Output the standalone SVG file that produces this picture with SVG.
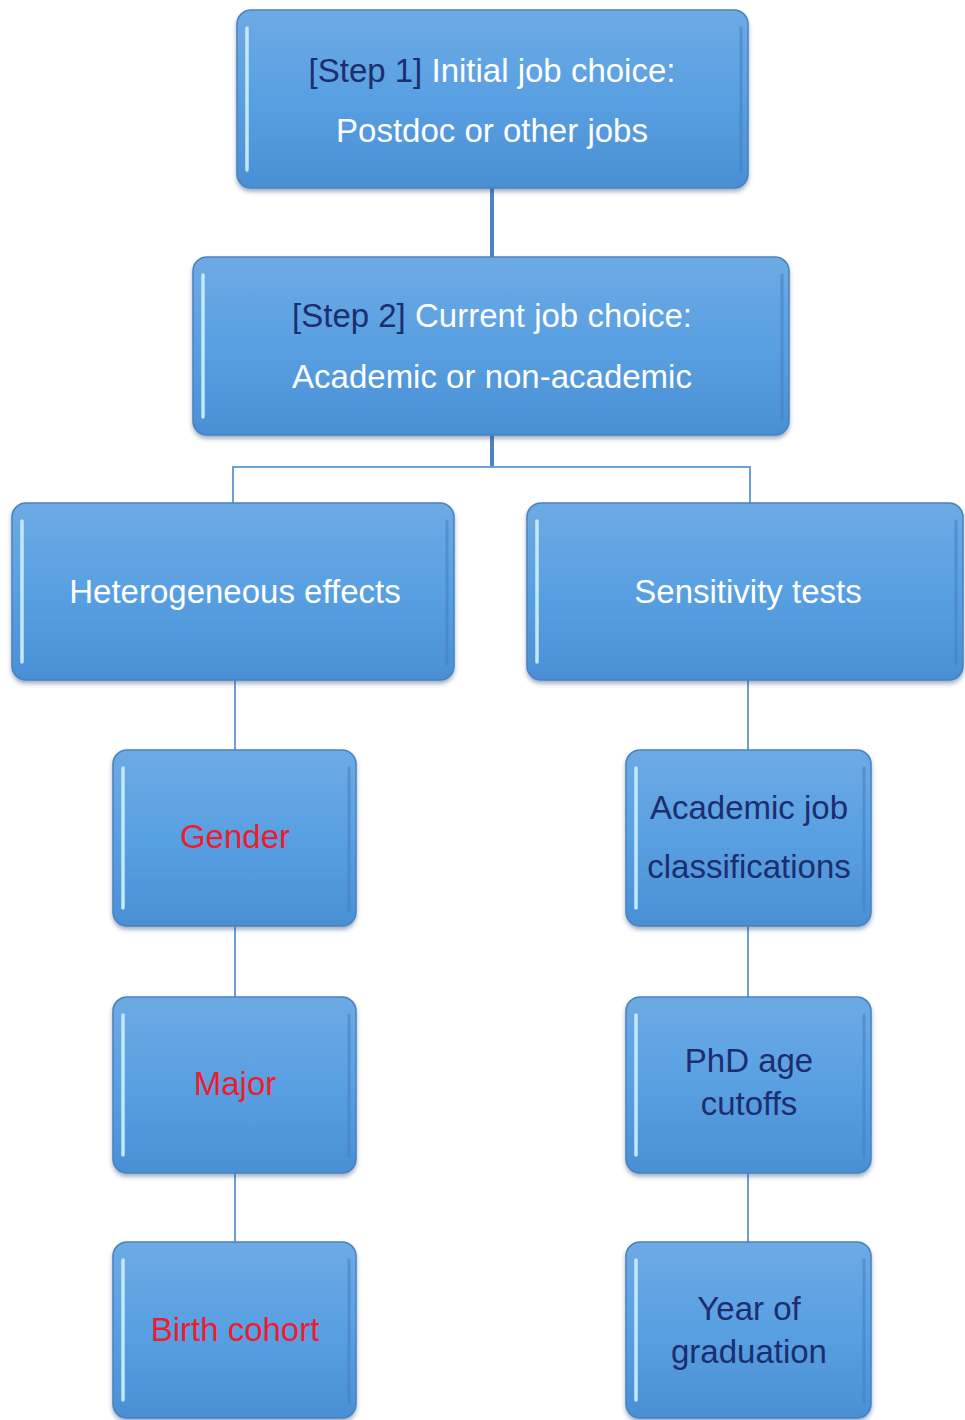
<svg xmlns="http://www.w3.org/2000/svg" width="965" height="1420" viewBox="0 0 965 1420">
<defs>
<linearGradient id="fillG" x1="0" y1="0" x2="0" y2="1">
<stop offset="0" stop-color="#6daae4"/>
<stop offset="0.5" stop-color="#58a0e2"/>
<stop offset="1" stop-color="#4a8fd4"/>
</linearGradient>
<filter id="sh" x="-5%" y="-5%" width="110%" height="115%">
<feDropShadow dx="0" dy="3" stdDeviation="2" flood-color="#2a4f80" flood-opacity="0.45"/>
</filter>
</defs>
<style>
.box{fill:url(#fillG);stroke:#4a82c0;stroke-width:1.5;filter:url(#sh)}
.hl{stroke:#c4e9ff;stroke-width:3.5;stroke-linecap:round}
.dk{stroke:#4681c2;stroke-width:3;stroke-linecap:round;opacity:0.6}
.t{font-family:"Liberation Sans",Arial,sans-serif;font-size:33px;text-anchor:middle}
.w{fill:#ffffff}
.n{fill:#1c2e6e}
.r{fill:#ee1c2e}
.thick{stroke:#4d84bf;stroke-width:4;fill:none}
.thin{stroke:#6b9fd6;stroke-width:2;fill:none}
</style>
<g id="connectors">
<line class="thick" x1="492" y1="188" x2="492" y2="258"/>
<line class="thick" x1="492" y1="435" x2="492" y2="468"/>
<polyline class="thin" points="233,503 233,467 750,467 750,503"/>
<line class="thin" x1="235" y1="680" x2="235" y2="750"/>
<line class="thin" x1="235" y1="926" x2="235" y2="997"/>
<line class="thin" x1="235" y1="1173" x2="235" y2="1242"/>
<line class="thin" x1="748" y1="680" x2="748" y2="750"/>
<line class="thin" x1="748" y1="926" x2="748" y2="997"/>
<line class="thin" x1="748" y1="1173" x2="748" y2="1242"/>
</g>
<g id="step1">
<rect class="box" x="237" y="10" width="511" height="178" rx="14"/>
<line class="hl" x1="247" y1="28" x2="247" y2="170"/>
<line class="dk" x1="741" y1="28" x2="741" y2="172"/>
<text class="t" x="492" y="82"><tspan class="n">[Step 1]</tspan><tspan class="w"> Initial job choice:</tspan></text>
<text class="t w" x="492" y="142">Postdoc or other jobs</text>
</g>
<g id="step2">
<rect class="box" x="193" y="257" width="596" height="178" rx="14"/>
<line class="hl" x1="203" y1="275" x2="203" y2="417"/>
<line class="dk" x1="782" y1="275" x2="782" y2="419"/>
<text class="t" x="492" y="327"><tspan class="n">[Step 2]</tspan><tspan class="w"> Current job choice:</tspan></text>
<text class="t w" x="492" y="388">Academic or non-academic</text>
</g>
<g id="hetero">
<rect class="box" x="12" y="503" width="442" height="177" rx="14"/>
<line class="hl" x1="22" y1="521" x2="22" y2="662"/>
<line class="dk" x1="447" y1="521" x2="447" y2="664"/>
<text class="t w" x="235" y="603">Heterogeneous effects</text>
</g>
<g id="sens">
<rect class="box" x="527" y="503" width="436" height="177" rx="14"/>
<line class="hl" x1="537" y1="521" x2="537" y2="662"/>
<line class="dk" x1="956" y1="521" x2="956" y2="664"/>
<text class="t w" x="748" y="603">Sensitivity tests</text>
</g>
<g id="gender">
<rect class="box" x="113" y="750" width="243" height="176" rx="14"/>
<line class="hl" x1="123" y1="768" x2="123" y2="908"/>
<line class="dk" x1="349" y1="768" x2="349" y2="910"/>
<text class="t r" x="235" y="848">Gender</text>
</g>
<g id="major">
<rect class="box" x="113" y="997" width="243" height="176" rx="14"/>
<line class="hl" x1="123" y1="1015" x2="123" y2="1155"/>
<line class="dk" x1="349" y1="1015" x2="349" y2="1157"/>
<text class="t r" x="235" y="1095">Major</text>
</g>
<g id="birth">
<rect class="box" x="113" y="1242" width="243" height="176" rx="14"/>
<line class="hl" x1="123" y1="1260" x2="123" y2="1400"/>
<line class="dk" x1="349" y1="1260" x2="349" y2="1402"/>
<text class="t r" x="235" y="1341">Birth cohort</text>
</g>
<g id="acad">
<rect class="box" x="626" y="750" width="245" height="176" rx="14"/>
<line class="hl" x1="636" y1="768" x2="636" y2="908"/>
<line class="dk" x1="864" y1="768" x2="864" y2="910"/>
<text class="t n" x="749" y="819">Academic job</text>
<text class="t n" x="749" y="878">classifications</text>
</g>
<g id="phd">
<rect class="box" x="626" y="997" width="245" height="176" rx="14"/>
<line class="hl" x1="636" y1="1015" x2="636" y2="1155"/>
<line class="dk" x1="864" y1="1015" x2="864" y2="1157"/>
<text class="t n" x="749" y="1072">PhD age</text>
<text class="t n" x="749" y="1115">cutoffs</text>
</g>
<g id="year">
<rect class="box" x="626" y="1242" width="245" height="176" rx="14"/>
<line class="hl" x1="636" y1="1260" x2="636" y2="1400"/>
<line class="dk" x1="864" y1="1260" x2="864" y2="1402"/>
<text class="t n" x="749" y="1320">Year of</text>
<text class="t n" x="749" y="1363">graduation</text>
</g>
</svg>
